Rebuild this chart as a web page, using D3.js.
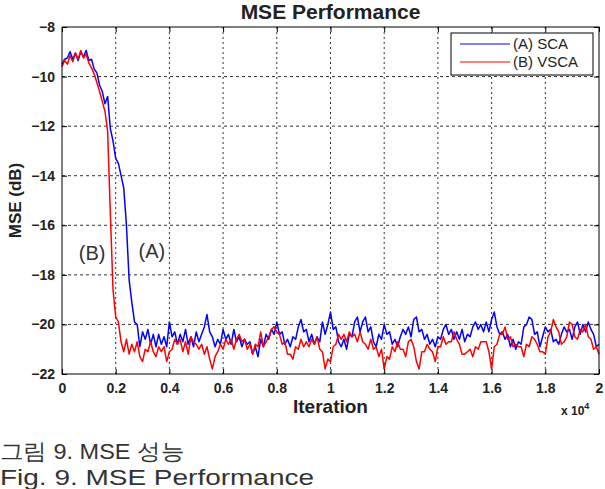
<!DOCTYPE html>
<html>
<head>
<meta charset="utf-8">
<script src="https://cdn.jsdelivr.net/npm/d3@7"></script>
<style>
  body { margin: 0; background: #fff; }
  text { font-family: "Liberation Sans", Arial, sans-serif; }
</style>
</head>
<body>
<div id="chart"></div>
<script>
// samples every 100 iterations, 0 .. 20000
const iterStep = 100;

const scaValues = [
  -9.5, -9.3, -9.25, -9.0, -9.3, -9.05, -9.35, -9.0, -9.2, -8.95,
  -9.35, -9.3, -9.7, -9.85, -10.35, -10.6, -11.1, -10.8, -12.1, -12.6,
  -13.3, -13.5, -14.0, -14.5, -16.0, -18.2, -19.1, -19.9, -20.0, -20.9,
  -20.3, -20.6, -20.2, -20.8, -20.4, -20.9, -20.4, -20.8, -20.5, -20.9,
  -19.9, -20.5, -20.3, -20.8, -20.4, -20.7, -20.2, -20.8, -20.5, -20.9,
  -20.3, -20.7, -20.4, -20.1, -19.6, -20.3, -20.5, -20.9, -20.6, -20.8,
  -20.2, -20.6, -20.4, -20.8, -20.2, -20.7, -20.5, -20.9, -20.6, -20.8,
  -20.7, -21.2, -20.9, -21.3, -20.6, -20.9, -20.4, -20.6, -20.2, -20.4,
  -19.9, -20.4, -20.3, -20.8, -20.6, -20.9, -20.5, -20.6, -20.1, -19.8,
  -20.3, -20.2, -20.7, -20.4, -20.8, -20.5, -20.7, -19.9, -20.4, -20.0,
  -19.5, -20.2, -20.1, -20.7, -20.9, -20.6, -21.0, -20.4, -20.5, -19.9,
  -19.7, -20.3, -19.9, -19.7, -20.3, -20.1, -20.7, -20.9, -20.4, -20.6,
  -20.0, -20.4, -20.3, -20.8, -20.6, -20.9, -20.5, -20.2, -20.4, -20.1,
  -20.5, -19.8, -19.7, -20.3, -20.2, -20.6, -20.4, -20.8, -20.6, -20.9,
  -20.5, -20.6, -20.2, -20.0, -20.4, -20.2, -20.6, -20.3, -20.6, -20.2,
  -20.7, -20.4, -20.5, -20.1, -19.9, -20.2, -20.0, -20.3, -19.9, -20.3,
  -19.8, -19.5, -20.1, -20.4, -20.3, -20.6, -20.4, -20.9, -20.6, -21.0,
  -20.7, -20.8, -20.1, -20.0, -19.7, -19.8, -20.4, -20.3, -20.9, -20.5,
  -20.1, -20.3, -20.2, -20.7, -20.6, -20.8, -20.4, -20.1, -20.3, -20.2,
  -20.6, -20.1, -19.9, -20.4, -20.0, -20.3, -19.9, -20.2, -20.4, -20.9,
  -20.8
];

const vscaValues = [
  -9.6, -9.35, -9.5, -9.15, -9.4, -9.05, -9.3, -8.95, -9.25, -9.1,
  -9.45, -9.65, -9.9, -10.25, -10.6, -11.0, -11.4, -12.2, -15.5, -18.6,
  -19.7, -19.9, -20.7, -21.1, -20.6, -21.2, -20.8, -21.1, -20.7, -21.3,
  -21.5, -21.0, -21.1, -20.7, -21.1, -21.3, -20.9, -21.1, -20.9, -21.5,
  -21.1, -21.0, -20.6, -20.8, -20.6, -21.1, -20.7, -21.2, -20.5, -20.7,
  -20.8, -21.0, -20.8, -21.2, -20.9, -21.4, -21.8, -21.3, -21.1, -20.8,
  -21.0, -20.6, -20.8, -20.6, -21.0, -20.6, -20.4, -20.7, -20.6, -21.0,
  -20.8, -21.2, -20.8, -20.9, -20.3, -20.9, -20.7, -20.5, -20.2, -20.1,
  -20.3, -20.4, -20.8, -20.7, -21.2, -21.2, -21.4, -20.9, -21.0, -20.6,
  -20.9, -20.7, -20.9, -20.6, -20.8, -20.5, -21.0, -21.1, -21.8, -21.4,
  -21.5, -20.9, -20.8, -20.4, -20.6, -20.4, -20.7, -20.3, -20.5, -20.4,
  -20.7, -20.3, -20.7, -20.8, -21.0, -20.6, -21.0, -20.9, -21.3, -21.0,
  -21.8, -21.3, -21.4, -20.9, -21.1, -20.7, -21.0, -21.0, -21.3, -20.7,
  -20.6, -20.9, -21.5, -21.8, -21.1, -21.1, -20.8, -21.0, -21.1, -21.5,
  -20.9, -20.9, -20.5, -20.8, -20.7, -20.7, -20.3, -20.6, -20.8, -21.2,
  -21.2, -21.1, -21.0, -21.3, -20.9, -21.0, -20.7, -20.7, -20.7, -21.1,
  -21.8, -20.9, -20.8, -20.4, -20.4, -20.1, -20.6, -20.5, -20.9, -20.8,
  -20.9, -20.9, -21.3, -20.8, -20.9, -20.5, -20.6, -20.8, -21.1, -21.1,
  -21.2, -20.5, -20.3, -19.8, -20.1, -20.3, -20.8, -20.7, -20.5, -19.9,
  -20.0, -20.5, -20.6, -20.2, -20.3, -20.0, -20.5, -20.6, -21.0, -20.9,
  -21.2
];

const seriesNames = ['(A) SCA', '(B) VSCA'];
const seriesColors = ['#0000ff', '#ff0000'];

const xTicks = [0, 2000, 4000, 6000, 8000, 10000, 12000, 14000, 16000, 18000, 20000];
const yTicks = [-8, -10, -12, -14, -16, -18, -20, -22];

// curve labels: [text, iteration, dB]
const curveLabels = [['(B)', 1120, -17.4], ['(A)', 3350, -17.3]];

const captionLines = ['그림 9. MSE 성능', 'Fig. 9. MSE Performance'];

const width = 605;
const height = 489;
const plotLeft = 62;
const plotRight = 599;
const plotTop = 27;
const plotBottom = 374;

const svg = d3.select('#chart')
    .append('svg')
    .attr('width', width)
    .attr('height', height)
    .style('display', 'block');

svg.append('rect')
    .attr('width', width)
    .attr('height', height)
    .attr('fill', '#fff');

const xScale = d3.scaleLinear([0, 20000], [plotLeft, plotRight]);
const yScale = d3.scaleLinear([-22, -8], [plotBottom, plotTop]);

// grid
svg.append('g')
    .selectAll('line')
    .data(xTicks.slice(1, -1))
    .join('line')
    .attr('x1', d => xScale(d)).attr('x2', d => xScale(d))
    .attr('y1', plotTop).attr('y2', plotBottom)
    .attr('stroke', '#000')
    .attr('stroke-width', 1)
    .attr('stroke-dasharray', '2,3')
    .attr('opacity', 0.8);

svg.append('g')
    .selectAll('line')
    .data(yTicks.slice(1, -1))
    .join('line')
    .attr('x1', plotLeft).attr('x2', plotRight)
    .attr('y1', d => yScale(d)).attr('y2', d => yScale(d))
    .attr('stroke', '#000')
    .attr('stroke-width', 1)
    .attr('stroke-dasharray', '3,3')
    .attr('opacity', 0.8);

// curves
const line = d3.line()
    .x((d, i) => xScale(i * iterStep))
    .y(d => yScale(d));

[scaValues, vscaValues].forEach((vals, k) => {
  svg.append('path')
      .datum(vals)
      .attr('fill', 'none')
      .attr('stroke', seriesColors[k])
      .attr('stroke-width', 1.5)
      .attr('stroke-linejoin', 'round')
      .attr('d', line);
});

// axes (MATLAB style, ticks inward on all sides)
const tickLen = 5;
svg.append('g')
    .attr('transform', `translate(0, ${plotBottom})`)
    .call(d3.axisBottom(xScale).tickValues(xTicks).tickSize(-tickLen).tickPadding(9)
        .tickFormat(d => String(d / 10000)))
    .call(g => g.select('.domain').remove());

svg.append('g')
    .attr('transform', `translate(0, ${plotTop})`)
    .call(d3.axisTop(xScale).tickValues(xTicks).tickSize(-tickLen).tickFormat(''))
    .call(g => g.select('.domain').remove());

svg.append('g')
    .attr('transform', `translate(${plotLeft}, 0)`)
    .call(d3.axisLeft(yScale).tickValues(yTicks).tickSize(-tickLen).tickPadding(7))
    .call(g => g.select('.domain').remove());

svg.append('g')
    .attr('transform', `translate(${plotRight}, 0)`)
    .call(d3.axisRight(yScale).tickValues(yTicks).tickSize(-tickLen).tickFormat(''))
    .call(g => g.select('.domain').remove());

svg.selectAll('.tick text')
    .attr('font-family', '"Liberation Sans", Arial, sans-serif')
    .attr('font-size', 14)
    .attr('font-weight', 'bold')
    .attr('fill', '#222');

svg.selectAll('.tick line').attr('stroke', '#000');

svg.append('rect')
    .attr('x', plotLeft).attr('y', plotTop)
    .attr('width', plotRight - plotLeft)
    .attr('height', plotBottom - plotTop)
    .attr('fill', 'none')
    .attr('stroke', '#000')
    .attr('stroke-width', 1);

// title and axis labels
svg.append('text')
    .text('MSE Performance')
    .attr('x', (plotLeft + plotRight) / 2)
    .attr('y', 19)
    .attr('text-anchor', 'middle')
    .attr('font-size', 21)
    .attr('font-weight', 'bold')
    .attr('fill', '#222');

svg.append('text')
    .text('Iteration')
    .attr('x', (plotLeft + plotRight) / 2)
    .attr('y', 413)
    .attr('text-anchor', 'middle')
    .attr('font-size', 19)
    .attr('font-weight', 'bold')
    .attr('fill', '#222');

svg.append('text')
    .text('MSE (dB)')
    .attr('transform', `translate(21, ${(plotTop + plotBottom) / 2}) rotate(-90)`)
    .attr('text-anchor', 'middle')
    .attr('font-size', 17)
    .attr('font-weight', 'bold')
    .attr('fill', '#222');

const expo = svg.append('text')
    .attr('x', 561)
    .attr('y', 415)
    .attr('font-size', 12)
    .attr('font-weight', 'bold')
    .attr('fill', '#222');
expo.append('tspan').text('x 10');
expo.append('tspan').text('4').attr('dy', -6).attr('font-size', 9);

// curve labels
svg.append('g')
    .selectAll('text')
    .data(curveLabels)
    .join('text')
    .text(d => d[0])
    .attr('x', d => xScale(d[1]))
    .attr('y', d => yScale(d[2]))
    .attr('text-anchor', 'middle')
    .attr('font-size', 20)
    .attr('fill', '#333');

// legend
const legend = svg.append('g').attr('transform', 'translate(451, 33)');
legend.append('rect')
    .attr('width', 142)
    .attr('height', 42)
    .attr('fill', '#fff')
    .attr('stroke', '#000')
    .attr('stroke-width', 1);

seriesNames.forEach((name, k) => {
  const y = 11 + k * 18;
  legend.append('line')
      .attr('x1', 9).attr('x2', 59)
      .attr('y1', y).attr('y2', y)
      .attr('stroke', seriesColors[k])
      .attr('stroke-width', 1.2);
  legend.append('text')
      .text(name)
      .attr('x', 62)
      .attr('y', y + 5)
      .attr('font-size', 15)
      .attr('fill', '#222');
});

// caption
svg.append('g')
    .selectAll('text')
    .data(captionLines)
    .join('text')
    .text(d => d)
    .attr('x', 0)
    .attr('y', (d, i) => 459 + i * 26)
    .attr('textLength', (d, i) => [184, 314][i])
    .attr('lengthAdjust', 'spacingAndGlyphs')
    .attr('font-family', '"Noto Sans CJK KR", sans-serif')
    .attr('font-size', 22)
    .attr('fill', '#333');
</script>
</body>
</html>
